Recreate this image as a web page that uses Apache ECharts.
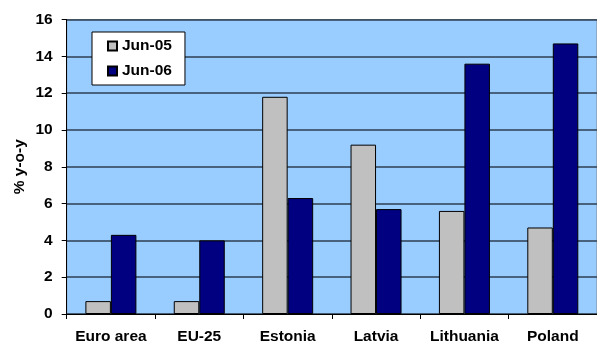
<!DOCTYPE html>
<html>
<head>
<meta charset="utf-8">
<script src="https://cdn.jsdelivr.net/npm/echarts@6/dist/echarts.min.js"></script>
<style>
html,body{margin:0;padding:0;background:#fff;}
#chart{width:597px;height:345px;}
</style>
</head>
<body>
<div id="chart"></div>
<script>
// Annual growth, % year-on-year
const categories = ['Euro area', 'EU-25', 'Estonia', 'Latvia', 'Lithuania', 'Poland'];
const jun05 = [0.7, 0.7, 11.8, 9.2, 5.6, 4.7];
const jun06 = [4.3, 4.0, 6.3, 5.7, 13.6, 14.7];
const seriesNames = ['Jun-05', 'Jun-06'];
const yTicks = [0, 2, 4, 6, 8, 10, 12, 14, 16];

const FONT = 'Arial, "Liberation Sans", sans-serif';
const FS = 15.5;
const chart = echarts.init(document.getElementById('chart'), null, { renderer: 'canvas' });

chart.setOption({
  animation: false,
  backgroundColor: '#ffffff',
  grid: {
    left: 66.7, right: -6.7, top: 19.5, bottom: 29.5,
    show: true, backgroundColor: '#99CCFF', borderColor: '#7f8a96', borderWidth: 1
  },
  legend: {
    orient: 'vertical',
    left: 92, top: 32,
    padding: [6, 13, 6, 15],
    itemGap: 9,
    itemWidth: 9, itemHeight: 9,
    backgroundColor: '#ffffff',
    borderColor: '#000000', borderWidth: 1,
    icon: 'rect',
    textStyle: { fontFamily: FONT, fontWeight: 'bold', fontSize: FS, color: '#000' },
    data: seriesNames
  },
  xAxis: {
    type: 'category',
    data: categories,
    axisLine: { lineStyle: { color: '#000', width: 1 } },
    axisTick: { show: true, interval: 0, length: 5, lineStyle: { color: '#000' } },
    axisLabel: { interval: 0, hideOverlap: false, fontFamily: FONT, fontWeight: 'bold', fontSize: FS, color: '#000', margin: 15 }
  },
  yAxis: {
    type: 'value',
    min: yTicks[0], max: yTicks[yTicks.length - 1], interval: 2,
    name: '% y-o-y',
    nameLocation: 'middle',
    nameRotate: 90,
    nameGap: 47,
    nameMoveOverlap: false,
    nameTextStyle: { fontFamily: FONT, fontWeight: 'bold', fontSize: FS, color: '#000', verticalAlign: 'middle' },
    axisLine: { show: true, lineStyle: { color: '#000', width: 1 } },
    axisTick: { show: true, inside: false, length: 5, lineStyle: { color: '#000' } },
    axisLabel: { fontFamily: FONT, fontWeight: 'bold', fontSize: FS, color: '#000', margin: 14 },
    splitLine: { show: true, lineStyle: { color: '#2e3e50', width: 1.5 } }
  },
  series: [
    {
      name: seriesNames[0], type: 'bar', data: jun05,
      barWidth: 25.5, barGap: '0%',
      itemStyle: { color: '#C0C0C0', borderColor: '#000', borderWidth: 1 }
    },
    {
      name: seriesNames[1], type: 'bar', data: jun06,
      barWidth: 25.5,
      itemStyle: { color: '#000080', borderColor: '#000', borderWidth: 1 }
    }
  ]
});
</script>
</body>
</html>
